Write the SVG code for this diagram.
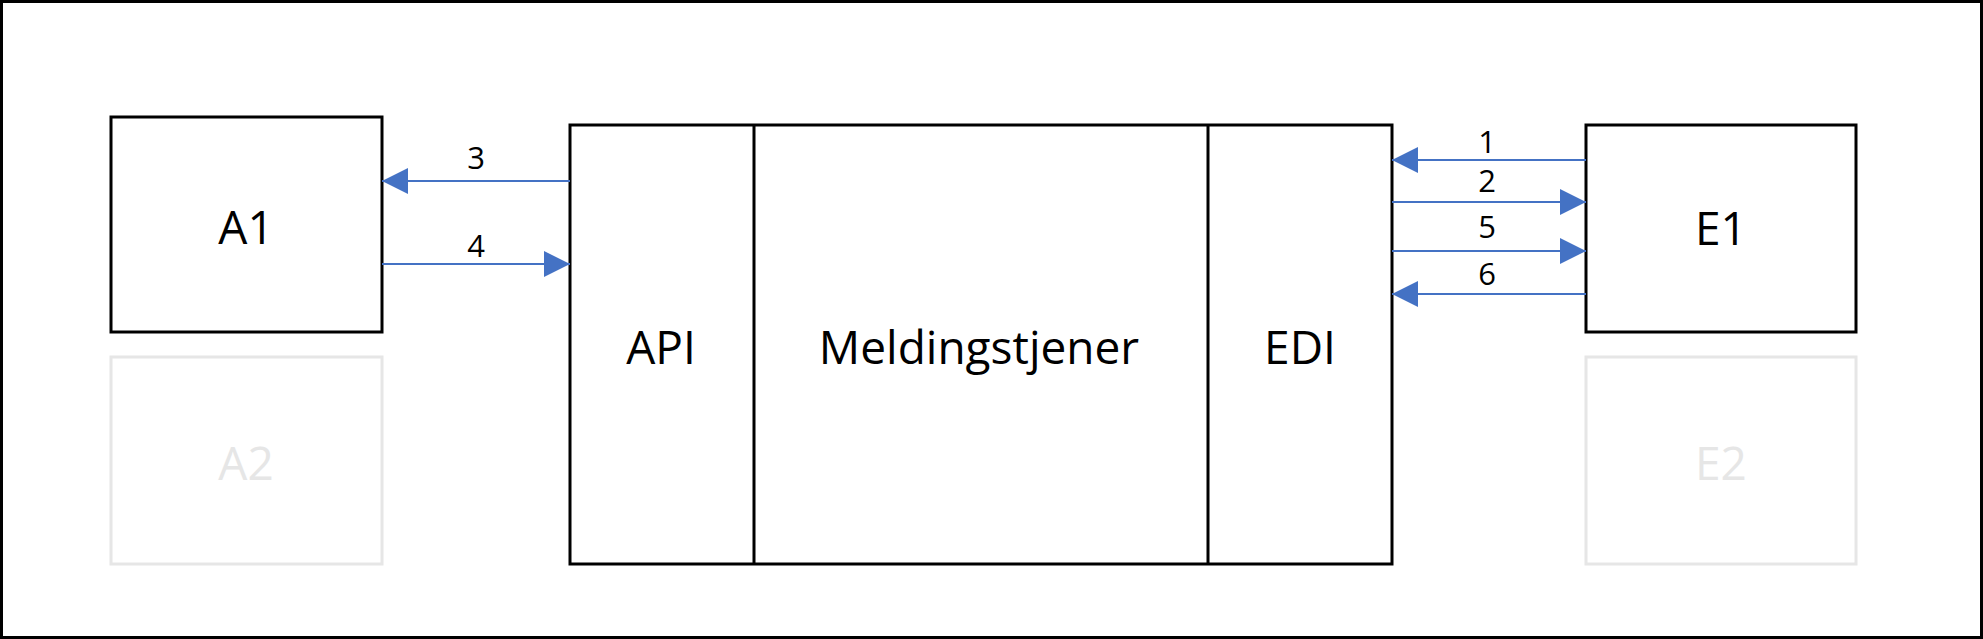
<svg xmlns="http://www.w3.org/2000/svg" width="1983" height="639" viewBox="0 0 1983 639">
<style>
.box{fill:#fff;stroke:#000;stroke-width:3}
.ghost{fill:#fff;stroke:#e6e6e6;stroke-width:3}
.div{stroke:#000;stroke-width:3}
.big{font-family:"Open Sans","Liberation Sans",sans-serif;font-size:46px;text-anchor:middle;fill:#000}
.gt{fill:#e6e6e6}
.lbl{font-family:"Open Sans","Liberation Sans",sans-serif;font-size:31px;text-anchor:middle;fill:#000}
.con{stroke:#4472C4;stroke-width:2;fill:none;marker-end:url(#ah)}
</style>
<defs>
<marker id="ah" markerUnits="userSpaceOnUse" markerWidth="26" markerHeight="26" refX="26" refY="13" orient="auto" overflow="visible">
<path d="M0,0 L26,13 L0,26 z" fill="#4472C4"/>
</marker>
</defs>
<rect x="1.5" y="1.5" width="1980" height="636" fill="#fff" stroke="#000" stroke-width="3"/>
<g id="A1"><rect class="box" x="111" y="117" width="271" height="215"/><text class="big" x="246" y="244">A1</text></g>
<g id="A2"><rect class="ghost" x="111" y="357" width="271" height="207"/><text class="big gt" x="246" y="480">A2</text></g>
<g id="E1"><rect class="box" x="1586" y="125" width="270" height="207"/><text class="big" x="1721" y="245">E1</text></g>
<g id="E2"><rect class="ghost" x="1586" y="357" width="270" height="207"/><text class="big gt" x="1721" y="480">E2</text></g>
<g id="server">
<rect class="box" x="570" y="125" width="822" height="439"/>
<line class="div" x1="754" y1="125" x2="754" y2="564"/>
<line class="div" x1="1208" y1="125" x2="1208" y2="564"/>
<text class="big" x="661" y="364">API</text>
<text class="big" x="979" y="364">Meldingstjener</text>
<text class="big" x="1300" y="364">EDI</text>
</g>
<g id="connectors">
<line class="con" x1="570" y1="181" x2="382" y2="181"/>
<line class="con" x1="382" y1="264" x2="570" y2="264"/>
<line class="con" x1="1586" y1="160" x2="1392" y2="160"/>
<line class="con" x1="1392" y1="202" x2="1586" y2="202"/>
<line class="con" x1="1392" y1="251" x2="1586" y2="251"/>
<line class="con" x1="1586" y1="294" x2="1392" y2="294"/>
<text class="lbl" x="476" y="169">3</text>
<text class="lbl" x="476" y="257">4</text>
<text class="lbl" x="1487" y="153">1</text>
<text class="lbl" x="1487" y="192">2</text>
<text class="lbl" x="1487" y="238">5</text>
<text class="lbl" x="1487" y="285">6</text>
</g>
</svg>
